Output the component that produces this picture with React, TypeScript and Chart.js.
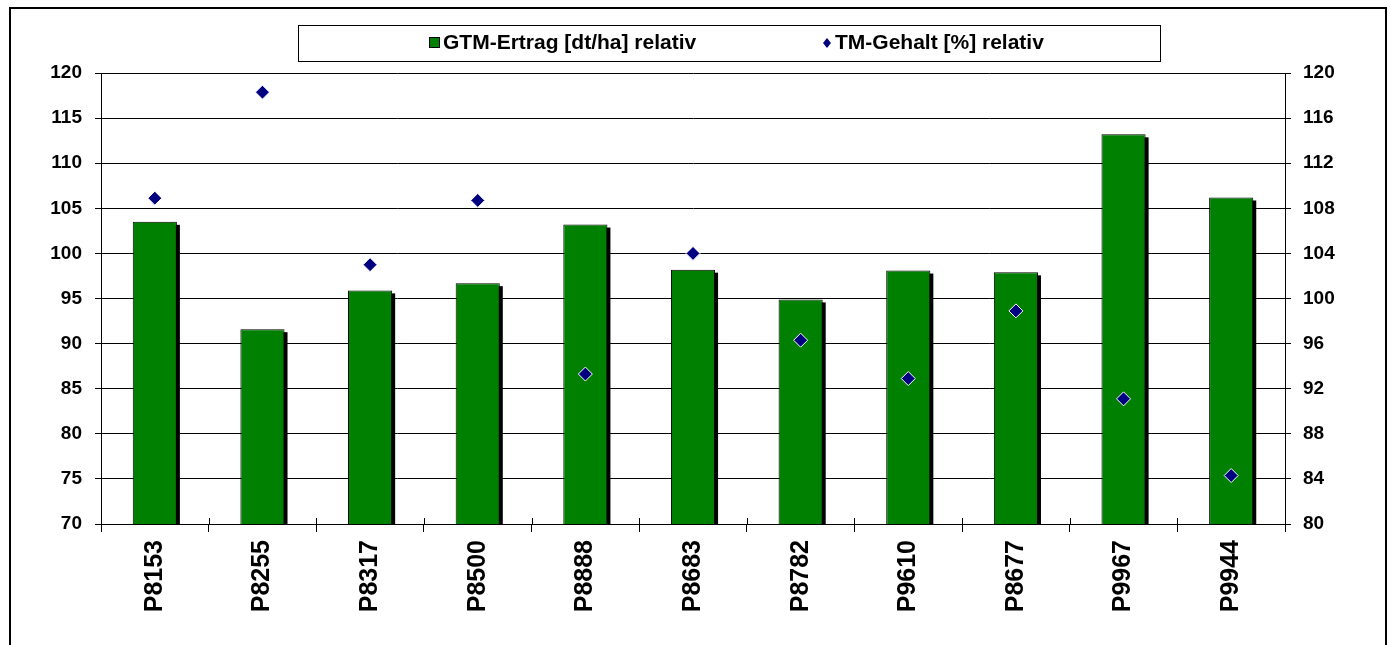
import React, { useEffect, useRef } from "react";
import { Chart, registerables } from "chart.js";

Chart.register(...registerables);

// ---- data ----
const categories = ["P8153", "P8255", "P8317", "P8500", "P8888", "P8683", "P8782", "P9610", "P8677", "P9967", "P9944"];
const gtmErtragRelativ = [103.5, 91.6, 95.9, 96.7, 103.2, 98.2, 94.9, 98.1, 97.9, 113.2, 106.2];
const tmGehaltRelativ = [108.9, 118.3, 103.0, 108.7, 93.3, 104.0, 96.3, 92.9, 98.9, 91.1, 84.3];
const seriesLabels = ["GTM-Ertrag [dt/ha] relativ", "TM-Gehalt [%] relativ"];
const leftAxis = [70, 120, 5]; // min, max, step
const rightAxis = [80, 120, 4];

const FONT = '"Liberation Sans", Arial, sans-serif';
const GREEN = "#008000";
const NAVY = "#000080";

const decorPlugin = {
  id: "decor",
  beforeDraw(chart: any) {
    const ctx = chart.ctx;
    ctx.save();
    ctx.fillStyle = "#ffffff";
    ctx.fillRect(0, 0, chart.width, chart.height);
    ctx.restore();
  },
  beforeDatasetsDraw(chart: any) {
    // bar shadows
    const ctx = chart.ctx;
    const area = chart.chartArea;
    const meta = chart.getDatasetMeta(0);
    ctx.save();
    ctx.fillStyle = "#000000";
    meta.data.forEach((el: any) => {
      const w = el.width;
      const top = Math.max(area.top, Math.min(el.y, el.base));
      const bottom = Math.min(area.bottom, Math.max(el.y, el.base));
      ctx.fillRect(el.x - w / 2 + 3, top + 3, w, bottom - top - 3);
    });
    ctx.restore();
  },
  afterDraw(chart: any) {
    const ctx = chart.ctx;
    const area = chart.chartArea;
    ctx.save();
    // inner part of crossing x tick marks
    const xs = chart.scales.x;
    ctx.strokeStyle = "#000";
    ctx.lineWidth = 1;
    for (let i = 0; i <= categories.length; i++) {
      const px = Math.round(xs.getPixelForValue(i - 0.5)) + 0.5;
      ctx.beginPath();
      ctx.moveTo(px, area.bottom - 6);
      ctx.lineTo(px, area.bottom);
      ctx.stroke();
    }
    // outer frame
    ctx.lineWidth = 2;
    ctx.strokeStyle = "#000";
    ctx.strokeRect(10, 8, 1376, 700);
    // legend box
    ctx.lineWidth = 1;
    ctx.fillStyle = "#fff";
    ctx.fillRect(298.5, 25.5, 862, 36);
    ctx.strokeRect(298.5, 25.5, 862, 36);
    ctx.font = "bold 21px " + FONT;
    ctx.textBaseline = "middle";
    ctx.textAlign = "left";
    const cy = 43;
    // item 1: green square
    ctx.fillStyle = GREEN;
    ctx.fillRect(429, cy - 6, 11, 11);
    ctx.strokeStyle = "#000";
    ctx.strokeRect(429.5, cy - 5.5, 10, 10);
    ctx.fillStyle = "#000";
    ctx.fillText(chart.data.datasets[0].label, 443, cy);
    // item 2: diamond
    const dx = 827;
    ctx.fillStyle = NAVY;
    ctx.beginPath();
    ctx.moveTo(dx, cy - 5);
    ctx.lineTo(dx + 4, cy);
    ctx.lineTo(dx, cy + 5);
    ctx.lineTo(dx - 4, cy);
    ctx.closePath();
    ctx.fill();
    ctx.fillStyle = "#000";
    ctx.fillText(chart.data.datasets[1].label, 835, cy);
    ctx.restore();
  },
};

export default function App() {
  const ref = useRef<HTMLCanvasElement | null>(null);

  useEffect(() => {
    if (!ref.current) return;
    const tickFont = { family: FONT, size: 19, weight: "bold" as const };
    const chart = new Chart(ref.current, {
      type: "bar",
      data: {
        labels: categories,
        datasets: [
          {
            type: "bar",
            label: seriesLabels[0],
            data: gtmErtragRelativ,
            backgroundColor: GREEN,
            borderColor: "#000",
            borderWidth: 1,
            categoryPercentage: 1,
            barPercentage: 0.41,
            yAxisID: "y",
            order: 2,
          },
          {
            type: "line",
            label: seriesLabels[1],
            data: tmGehaltRelativ,
            showLine: false,
            pointStyle: "rectRot",
            pointRadius: 7,
            pointHoverRadius: 7,
            pointBackgroundColor: NAVY,
            pointBorderColor: "#fff",
            pointBorderWidth: 1,
            backgroundColor: NAVY,
            borderColor: NAVY,
            yAxisID: "y1",
            order: 1,
          } as any,
        ],
      },
      options: {
        responsive: false,
        animation: false,
        events: [],
        layout: { padding: { top: 73, left: 0, right: 0, bottom: 0 } },
        plugins: {
          legend: { display: false },
          tooltip: { enabled: false },
          title: { display: false },
        },
        scales: {
          x: {
            position: "bottom",
            grid: {
              offset: true,
              drawOnChartArea: false,
              drawTicks: true,
              tickLength: 8,
              color: "#000",
              lineWidth: 1,
            },
            border: { display: true, color: "#000", width: 1 },
            ticks: {
              color: "#000",
              font: { family: FONT, size: 25, weight: "bold" },
              minRotation: 90,
              maxRotation: 90,
              padding: 8,
              autoSkip: false,
            },
            afterFit: (s: any) => {
              s.height = 121;
            },
          },
          y: {
            position: "left",
            min: leftAxis[0],
            max: leftAxis[1],
            grid: { color: "#000", lineWidth: 1, tickLength: 6, drawTicks: true },
            border: { display: true, color: "#000", width: 1 },
            ticks: {
              stepSize: leftAxis[2],
              color: "#000",
              font: tickFont,
              padding: 13,
            },
            afterFit: (s: any) => {
              s.width = 101;
            },
          },
          y1: {
            position: "right",
            min: rightAxis[0],
            max: rightAxis[1],
            grid: { drawOnChartArea: false, color: "#000", lineWidth: 1, tickLength: 6, drawTicks: true },
            border: { display: true, color: "#000", width: 1 },
            ticks: {
              stepSize: rightAxis[2],
              color: "#000",
              font: tickFont,
              padding: 12,
            },
            afterFit: (s: any) => {
              s.width = 105;
            },
          },
        },
      },
      plugins: [decorPlugin],
    });
    return () => chart.destroy();
  }, []);

  return (
    <div style={{ position: "absolute", left: 0, top: 0, width: 1390, height: 645, background: "#fff" }}>
      <canvas ref={ref} width={1390} height={645} style={{ display: "block", width: 1390, height: 645 }} />
    </div>
  );
}
